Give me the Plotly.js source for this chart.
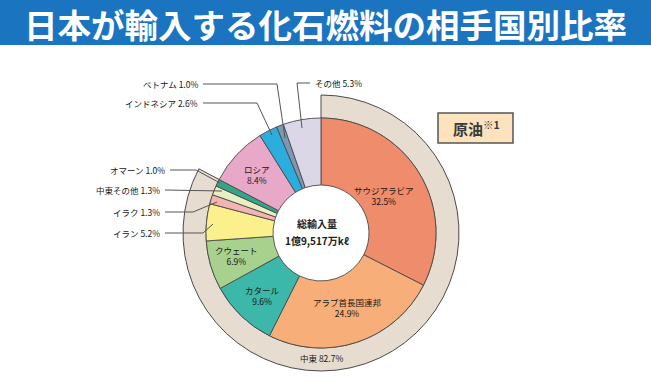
<!DOCTYPE html>
<html>
<head>
<meta charset="utf-8">
<script src="https://cdn.plot.ly/plotly-3.0.1.min.js"></script>
<style>html,body{margin:0;padding:0;background:#fff;}#chart{width:651px;height:391px;}</style>
</head>
<body>
<div id="chart"></div>
<script>
// ---- data ----
const countries = ['サウジアラビア','アラブ首長国連邦','カタール','クウェート','イラン','イラク','中東その他','オマーン','ロシア','インドネシア','ベトナム','その他'];
const shares = [32.5, 24.9, 9.6, 6.9, 5.2, 1.3, 1.3, 1.0, 8.4, 2.6, 1.0, 5.3];
const regions = ['中東', '中東以外'];
const regionShares = [82.7, 17.3];
const titleText = '日本が輸入する化石燃料の相手国別比率';
const totalLabel = ['総輸入量', '1億9,517万kℓ'];
const fuelLabel = '原油';

// ---- styles ----
const W = 651, H = 391;
const countryColors = ['#ee8c6c','#f7ae78','#3cb8aa','#a9d18e','#fbf08c','#f4b4b2','#e9efc2','#35a58a','#e8a9c8','#2badde','#7b98b4','#dcd7e7'];
const regionColors = ['#e6dcd0','rgba(0,0,0,0)'];
const lineColor = '#4a4a4a';
const font = 'Noto Sans CJK JP, sans-serif';
const cx = 321, cy = 233, rOuter = 138, rInner = 115, rHole = 48;

const px = x => x / W;
const py = y => 1 - y / H;
const fmt = v => v.toFixed(1) + '%';

const innerTrace = {
  type: 'pie', values: shares, labels: countries, sort: false, direction: 'clockwise', rotation: 0,
  hole: rHole / rInner, textinfo: 'none', hoverinfo: 'label+percent',
  marker: {colors: countryColors, line: {color: lineColor, width: 0.9}},
  domain: {x: [px(cx - rInner), px(cx + rInner)], y: [py(cy + rInner), py(cy - rInner)]},
  showlegend: false
};
const outerTrace = {
  type: 'pie', values: regionShares, labels: regions, sort: false, direction: 'clockwise', rotation: 0,
  hole: rInner / rOuter, textinfo: 'none', hoverinfo: 'none',
  marker: {colors: regionColors, line: {color: lineColor, width: [1, 0]}},
  domain: {x: [px(cx - rOuter), px(cx + rOuter)], y: [py(cy + rOuter), py(cy - rOuter)]},
  showlegend: false
};

// label placement (pixel positions), index into countries
const insideLabels = [[0, 384, 195], [1, 347, 307], [2, 262, 295], [3, 237, 255], [8, 257, 174]];
const rightAligned = [[7, 167, 170], [6, 162, 190], [5, 162, 212], [4, 162, 233], [10, 200, 84], [9, 200, 103]];
const leftAligned = [[11, 313, 83]];
const leaders = [
  [[203,84],[277,84],[285,138]],
  [[203,103],[257,103],[272,135]],
  [[310,83],[297,83],[302,128]],
  [[170,170],[196,170],[220,183]],
  [[165,190],[222,191]],
  [[165,212],[193,212],[217,202]],
  [[165,233],[203,233],[213,224]]
];

const annotations = [];
const textFont = {family: font, size: 8.5, color: '#161616'};
insideLabels.forEach(([i, x, y]) => annotations.push({
  xref: 'paper', yref: 'paper', x: px(x), y: py(y), xanchor: 'center', yanchor: 'middle',
  text: countries[i] + '<br>' + fmt(shares[i]), showarrow: false, font: textFont, align: 'center'
}));
rightAligned.forEach(([i, x, y]) => annotations.push({
  xref: 'paper', yref: 'paper', x: px(x), y: py(y), xanchor: 'right', yanchor: 'middle',
  text: countries[i] + ' ' + fmt(shares[i]), showarrow: false, font: textFont
}));
leftAligned.forEach(([i, x, y]) => annotations.push({
  xref: 'paper', yref: 'paper', x: px(x), y: py(y), xanchor: 'left', yanchor: 'middle',
  text: countries[i] + ' ' + fmt(shares[i]), showarrow: false, font: textFont
}));
annotations.push({
  xref: 'paper', yref: 'paper', x: px(cx), y: py(358), xanchor: 'center', yanchor: 'middle',
  text: regions[0] + ' ' + fmt(regionShares[0]), showarrow: false, font: textFont
});
[[totalLabel[0], 223], [totalLabel[1], 240]].forEach(([t, y]) => annotations.push({
  xref: 'paper', yref: 'paper', x: px(317), y: py(y), xanchor: 'center', yanchor: 'middle',
  text: '<b>' + t + '</b>', showarrow: false,
  font: {family: font, size: 10, color: '#222'}
}));
annotations.push({
  xref: 'paper', yref: 'paper', x: px(476), y: py(128), xanchor: 'center', yanchor: 'middle',
  text: '<b>' + fuelLabel + '</b><sup><b>※1</b></sup>', showarrow: false,
  font: {family: font, size: 15, color: '#3a3a3a'}
});

const shapes = [
  {type: 'rect', xref: 'paper', yref: 'paper', x0: 0, x1: 1, y0: py(45), y1: 1, fillcolor: '#1b74c0', line: {width: 0}, layer: 'below'},
  {type: 'rect', xref: 'paper', yref: 'paper', x0: px(438), x1: px(513), y0: py(143), y1: py(113), fillcolor: '#fde2be', line: {color: '#555', width: 1.5}}
];
leaders.forEach(pts => {
  for (let k = 0; k < pts.length - 1; k++) {
    shapes.push({type: 'line', xref: 'paper', yref: 'paper',
      x0: px(pts[k][0]), y0: py(pts[k][1]), x1: px(pts[k+1][0]), y1: py(pts[k+1][1]),
      line: {color: '#555', width: 1}});
  }
});

const layout = {
  width: W, height: H, margin: {l: 0, r: 0, t: 0, b: 0},
  paper_bgcolor: '#ffffff', plot_bgcolor: '#ffffff',
  title: {text: '<b>' + titleText + '</b>', font: {family: font, size: 33.5, color: '#ffffff'},
    x: 0.5, xanchor: 'center', y: py(26), yanchor: 'middle', xref: 'paper', yref: 'container'},
  annotations: annotations, shapes: shapes, showlegend: false
};

Plotly.newPlot('chart', [outerTrace, innerTrace], layout, {displayModeBar: false, staticPlot: true});
</script>
</body>
</html>
